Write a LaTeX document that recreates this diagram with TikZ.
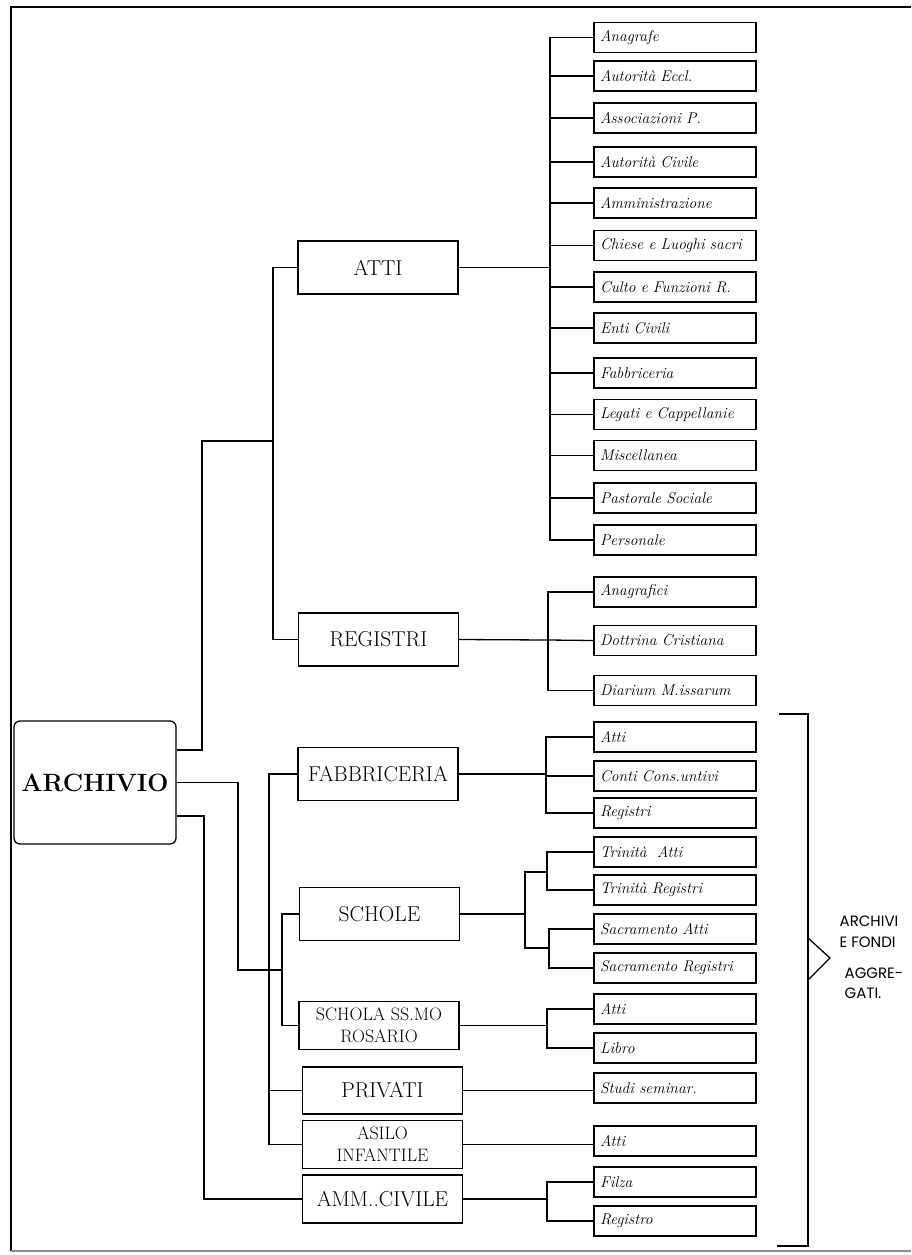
\documentclass[tikz,border=0pt]{standalone}
\usepackage{fontspec}
\usepackage{tikz}
\newfontfamily\aggfont{Poppins}

\begin{document}
\begin{tikzpicture}[x=1pt, y=-1pt, line width=1.3pt,
  leaf/.style={draw, line width=1.4pt, minimum height=30pt, text width=150pt, inner xsep=6pt, inner ysep=0pt, align=left, font=\fontsize{15.5}{17}\selectfont\itshape},
  mid/.style={draw, line width=1.4pt, minimum width=160pt, minimum height=53pt, inner sep=0pt, align=center, font=\fontsize{21.5}{24}\selectfont},
  small/.style={minimum height=48pt, font=\fontsize{18}{22}\selectfont}]
  \useasboundingbox (0,0) rectangle (911,1255);
  % page frame
  \draw[line width=1.5pt] (911,7) -- (11,7) -- (11,1251);
  \draw[black!45] (11,1251) -- (911,1251);

  \node[draw, rounded corners=6pt, line width=1.3pt, minimum width=162pt, minimum height=123pt, font=\fontsize{25}{28}\selectfont\bfseries] (archivio) at (95,782.5) {ARCHIVIO};

  \node[mid] (atti) at (378,267.5) {ATTI};
  \node[mid] (registri) at (378.5,639.5) {REGISTRI};
  \node[mid] (fabbr) at (378,774) {FABBRICERIA};
  \node[mid] (schole) at (379.5,914) {SCHOLE};
  \node[mid, small] (rosario) at (379,1025.5) {SCHOLA SS.MO\\ROSARIO};
  \node[mid, minimum height=47pt] (privati) at (382.5,1090.5) {PRIVATI};
  \node[mid, small] (asilo) at (382.5,1144.5) {ASILO\\INFANTILE};
  \node[mid, minimum height=48pt] (ammciv) at (382.5,1199) {AMM..CIVILE};

  % leaves of ATTI
  \foreach \y/\t [count=\i] in {37.5/Anagrafe, 76/Autorità Eccl., 118/Associazioni P., 162/Autorità Civile,
      203/Amministrazione, 245.5/Chiese e Luoghi sacri, 287/Culto e Funzioni R., 328/Enti Civili,
      373/Fabbriceria, 414.5/Legati e Cappellanie, 455.5/Miscellanea, 498/Pastorale Sociale, 540/Personale}
    \node[leaf] (at\i) at (675,\y) {\t};

  \node[leaf] (rg1) at (675,592) {Anagrafici};
  \node[leaf] (rg2) at (675,640.5) {Dottrina Cristiana};
  \node[leaf] (rg3) at (675,690.5) {Diarium M.issarum};
  \node[leaf] (fb1) at (675,737) {Atti};
  \node[leaf] (fb2) at (675,776) {Conti Cons.untivi};
  \node[leaf] (fb3) at (675,813) {Registri};
  \node[leaf] (tr1) at (675,852) {Trinità\ \ Atti};
  \node[leaf] (tr2) at (675,890) {Trinità Registri};
  \node[leaf] (sa1) at (675,929) {Sacramento Atti};
  \node[leaf] (sa2) at (675,968) {Sacramento Registri};
  \node[leaf] (ro1) at (675,1009) {Atti};
  \node[leaf] (ro2) at (675,1048) {Libro};
  \node[leaf] (pr1) at (675,1088) {Studi seminar.};
  \node[leaf] (as1) at (675,1141) {Atti};
  \node[leaf] (am1) at (675,1182) {Filza};
  \node[leaf] (am2) at (675,1221) {Registro};

  % bus points
  \coordinate (abus) at (550,267.5);
  \coordinate (rbus) at (548,640);
  \coordinate (fbus) at (546,774);
  \coordinate (sb1) at (525,872);
  \coordinate (sb2) at (525,948);
  \coordinate (tb) at (547,872);
  \coordinate (sc) at (549,948);
  \coordinate (robus) at (547,1025.5);
  \coordinate (mbus) at (547,1199);
  \coordinate (j1) at (273,441);
  \coordinate (k1) at (202,441);
  \coordinate (gb) at (269,1090.5);
  \coordinate (hb) at (282,970);
  \coordinate (k2) at (238,970);
  \coordinate (k3) at (204,1199);

  % ARCHIVIO to second level
  \draw ([yshift=32.5pt]archivio.east) -| (k1) -- (j1);
  \draw (archivio.east) -| (k2) -- (hb);
  \draw ([yshift=-33.5pt]archivio.east) -| (k3) -- (ammciv.west);
  \draw (atti.west) -| (j1) |- (registri.west);
  \draw (fabbr.west) -| (gb) |- (asilo.west);
  \draw (privati.west) -- (gb);
  \draw (schole.west) -| (hb) |- (rosario.west);

  % second level to leaves
  \draw (atti.east) -- (abus);
  \draw (at1.west) -| (abus) |- (at13.west);
  \foreach \i in {2,...,12}
    \draw (at\i.west) -- (at\i.west -| abus);
  \draw (registri.east) -- (rbus) -- (rg2.west);
  \draw (rg1.west) -| (rbus) |- (rg3.west);
  \draw (fabbr.east) -- (fbus);
  \draw (fb1.west) -| (fbus) |- (fb3.west);
  \draw (fb2.west) -- (fb2.west -| fbus);
  \draw (schole.east) -- (schole.east -| sb1);
  \draw (tb) -- (sb1) -- (sb2) -- (sc);
  \draw (tr1.west) -| (tb) |- (tr2.west);
  \draw (sa1.west) -| (sc) |- (sa2.west);
  \draw (rosario.east) -- (robus);
  \draw (ro1.west) -| (robus) |- (ro2.west);
  \draw (privati.east) -- (pr1.west |- privati.east);
  \draw (asilo.east) -- (as1.west |- asilo.east);
  \draw (ammciv.east) -- (mbus);
  \draw (am1.west) -| (mbus) |- (am2.west);

  % bracket on the right
  \draw (779,714) -| (808,1246) -- (777,1246);
  \draw (808,938) -- (830,958) -- (808,980);
  \node[anchor=north west, inner sep=0pt, align=left, font={\aggfont\fontsize{15}{21}\selectfont}] (agg1) at (839,915) {ARCHIVI\\E FONDI};
  \node[anchor=north west, inner sep=0pt, align=left, font={\aggfont\fontsize{15}{20}\selectfont}] (agg2) at (844,967) {AGGRE-\\GATI.};
\end{tikzpicture}
\end{document}
